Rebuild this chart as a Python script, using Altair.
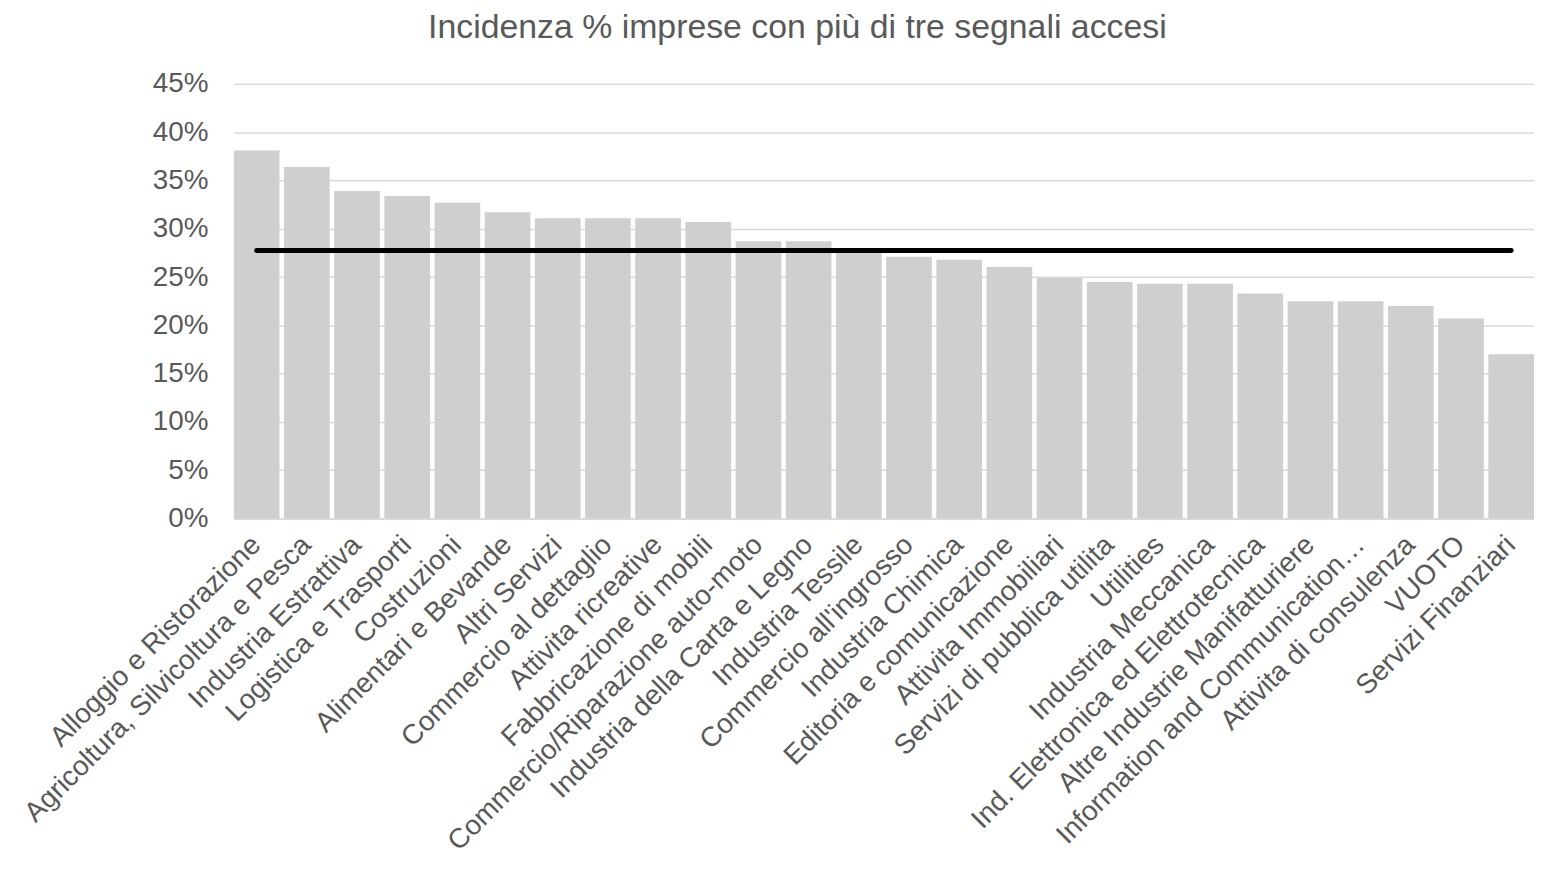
import altair as alt
import pandas as pd

categories = [
    "Alloggio e Ristorazione",
    "Agricoltura, Silvicoltura e Pesca",
    "Industria Estrattiva",
    "Logistica e Trasporti",
    "Costruzioni",
    "Alimentari e Bevande",
    "Altri Servizi",
    "Commercio al dettaglio",
    "Attivita ricreative",
    "Fabbricazione di mobili",
    "Commercio/Riparazione auto-moto",
    "Industria della Carta e Legno",
    "Industria Tessile",
    "Commercio all'ingrosso",
    "Industria Chimica",
    "Editoria e comunicazione",
    "Attivita Immobiliari",
    "Servizi di pubblica utilita",
    "Utilities",
    "Industria Meccanica",
    "Ind. Elettronica ed Elettrotecnica",
    "Altre Industrie Manifatturiere",
    "Information and Communication…",
    "Attivita di consulenza",
    "VUOTO",
    "Servizi Finanziari",
]
values = [
    38.1, 36.4, 33.9, 33.4, 32.7, 31.7, 31.1, 31.1, 31.1, 30.7,
    28.7, 28.7, 27.8, 27.1, 26.8, 26.05, 24.9, 24.5, 24.3, 24.3,
    23.3, 22.5, 22.5, 22.0, 20.7, 17.0,
]
average = 27.75
y_ticks = [0, 0.05, 0.10, 0.15, 0.20, 0.25, 0.30, 0.35, 0.40, 0.45]
title_text = "Incidenza % imprese con più di tre segnali accesi"

FONT = "Liberation Sans"
TXT = "#595959"

df = pd.DataFrame({"cat": categories, "val": [v / 100 for v in values]})
df_avg = pd.DataFrame({"x1": [categories[0]], "x2": [categories[-1]], "y": [average / 100]})

xscale = alt.Scale(domain=categories, paddingInner=0.09, paddingOuter=0)
yscale = alt.Scale(domain=[0, 0.45], nice=False)

bars = alt.Chart(df).mark_bar(color="#d0cecf").encode(
    x=alt.X("cat:N", sort=categories, scale=xscale, title=None,
            axis=alt.Axis(labelAngle=-45, labelAlign="right", labelBaseline="middle",
                          labelFontSize=28, labelColor=TXT, labelFont=FONT,
                          labelPadding=22, ticks=False, domainColor="#d9d9d9",
                          domainWidth=1.5, labelOverlap=False, labelLimit=0)),
    y=alt.Y("val:Q", scale=yscale, title=None,
            axis=alt.Axis(values=y_ticks, format=".0%", labelFontSize=28, labelColor=TXT,
                          labelFont=FONT, labelPadding=26, ticks=False, domain=False,
                          gridColor="#d9d9d9", gridWidth=1.5)),
)

line = alt.Chart(df_avg).mark_rule(color="black", strokeWidth=5, strokeCap="round").encode(
    x=alt.X("x1:N", sort=categories, scale=xscale),
    x2="x2:N",
    y=alt.Y("y:Q", scale=yscale),
)

chart = (bars + line).properties(
    width=1307,
    height=437,
    autosize=alt.AutoSizeParams(type="none"),
    padding={"left": 227, "top": 74, "right": 0, "bottom": 345},
    title=alt.TitleParams(title_text, fontSize=34, font=FONT, color=TXT, fontWeight="normal",
                          anchor="middle", dx=-87, dy=2, offset=0, baseline="alphabetic"),
).configure_view(stroke=None)

chart.save("out.html", embed_options={"renderer": "svg", "actions": False})
